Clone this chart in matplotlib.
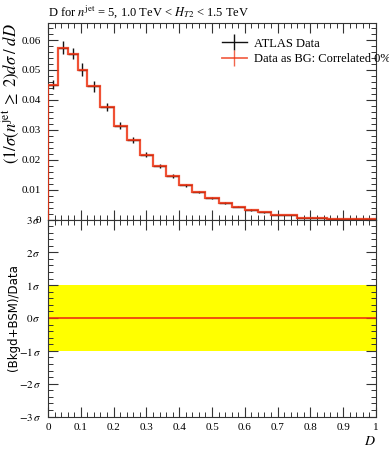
import matplotlib
matplotlib.use("Agg")
import matplotlib.pyplot as plt
import numpy as np
from matplotlib.ticker import MultipleLocator, FixedLocator
from matplotlib.lines import Line2D

plt.rcParams['font.family'] = ['Liberation Serif', 'DejaVu Serif']
plt.rcParams['mathtext.fontset'] = 'stix'

# Data
bin_edges = [0.0, 0.03, 0.06, 0.09, 0.12, 0.16, 0.20, 0.24, 0.28, 0.32, 0.36,
             0.40, 0.44, 0.48, 0.52, 0.56, 0.60, 0.64, 0.68, 0.76, 0.85, 1.0]
values = [0.0451, 0.0574, 0.0554, 0.0501, 0.0445, 0.0376, 0.0313, 0.0265,
          0.0217, 0.0178, 0.0146, 0.0115, 0.0092, 0.0073, 0.0056, 0.0043,
          0.0032, 0.0024, 0.0015, 0.0006, 0.0001]
errors = [0.0016, 0.0022, 0.0018, 0.0022, 0.0018, 0.0013, 0.0012, 0.0010,
          0.0008, 0.0007, 0.0006, 0.0005, 0.0004, 0.0003, 0.0003, 0.0002,
          0.0002, 0.0002, 0.0001, 0.0001, 0.0001]
pull_band = [-1.0, 1.0]
pull_line = [0.0, 0.0]
x_ticks = [0, 0.1, 0.2, 0.3, 0.4, 0.5, 0.6, 0.7, 0.8, 0.9, 1.0]
x_tick_labels = ['0', '0.1', '0.2', '0.3', '0.4', '0.5', '0.6', '0.7', '0.8', '0.9', '1']
y_ticks = [0.0, 0.01, 0.02, 0.03, 0.04, 0.05, 0.06]
y_tick_labels = ['0', '0.01', '0.02', '0.03', '0.04', '0.05', '0.06']
sig_ticks = [-3, -2, -1, 0, 1, 2, 3]
sig_tick_labels = [r'$-3\,\sigma$', r'$-2\,\sigma$', r'$-1\,\sigma$', r'$0\,\sigma$',
                   r'$1\,\sigma$', r'$2\,\sigma$', r'$3\,\sigma$']

edges = np.array(bin_edges)
vals = np.array(values)
errs = np.array(errors)
centers = 0.5 * (edges[:-1] + edges[1:])
halfw = 0.5 * (edges[1:] - edges[:-1])

fig = plt.figure(figsize=(3.89, 4.5), dpi=100)
L, R = 48/389, 376/389
ax1 = fig.add_axes([L, 1-219.5/450, R-L, (219.5-23)/450])
ax2 = fig.add_axes([L, 1-416.5/450, R-L, (416.5-219.5)/450])

red = '#ee3311'
black = '#111111'

# Top panel
ax1.errorbar(centers, vals, xerr=halfw, yerr=errs, fmt='none', ecolor=black,
             elinewidth=1.0, capsize=0, zorder=2)
ax1.stairs(vals, edges, color=red, lw=1.6, alpha=0.85, zorder=3)

hb = (Line2D([], [], color=black, lw=1.0),
      Line2D([], [], color=black, marker='|', ms=11, mew=1.0, ls='none'))
hr = (Line2D([], [], color=red, lw=1.3, alpha=0.75),
      Line2D([], [], color=red, marker='|', ms=11, mew=1.0, ls='none', alpha=0.75))
leg = ax1.legend([hb, hr], ['ATLAS Data', 'Data as BG: Correlated 0%'], loc='upper left',
                 bbox_to_anchor=(0.53, 0.925), frameon=False, fontsize=9,
                 borderpad=0, borderaxespad=0, handlelength=2.0, handletextpad=0.55,
                 labelspacing=0.3)
ax1.set_xlim(0, 1)
ax1.set_ylim(0, 0.0657)
ax1.yaxis.set_major_locator(FixedLocator(y_ticks))
ax1.set_yticklabels(y_tick_labels)
ax1.yaxis.set_minor_locator(MultipleLocator(0.002))
ax1.xaxis.set_major_locator(FixedLocator(x_ticks))
ax1.xaxis.set_minor_locator(MultipleLocator(0.02))
ax1.tick_params(axis='x', labelbottom=False)
ax1.set_ylabel(r'$(1/\sigma(n^{\mathrm{jet}}\; \geq\; 2)d\sigma\;/\;dD$', loc='top', fontsize=12)
ax1.set_title(r'D for $n^{\mathrm{jet}}$ = 5, 1.0 TeV < $H_{T2}$ < 1.5 TeV', loc='left',
              fontsize=9, pad=5)

# Bottom panel
ax2.fill_between([0, 1], [pull_band[0]] * 2, [pull_band[1]] * 2, color='#ffff00', lw=0, zorder=1)
ax2.plot([0, 1], pull_line, color=red, lw=1.2, zorder=2)
ax2.set_xlim(0, 1)
ax2.set_ylim(-3, 3)
ax2.yaxis.set_major_locator(FixedLocator(sig_ticks))
ax2.set_yticklabels(sig_tick_labels)
ax2.yaxis.set_minor_locator(MultipleLocator(0.2))
ax2.xaxis.set_major_locator(FixedLocator(x_ticks))
ax2.set_xticklabels(x_tick_labels)
ax2.xaxis.set_minor_locator(MultipleLocator(0.02))
ax2.set_ylabel('(Bkgd+BSM)/Data', family='DejaVu Sans', fontsize=8.5)
ax2.set_xlabel('$D$', loc='right', fontsize=10, labelpad=2)

for ax in (ax1, ax2):
    ax.tick_params(which='both', direction='in', top=True, right=True, colors='#333333',
                   labelcolor='black', labelsize=8)
    ax.tick_params(which='major', length=7, width=0.8, pad=5)
    ax.tick_params(which='minor', length=3.5, width=0.7)
    for s in ax.spines.values():
        s.set_color('#333333')
        s.set_linewidth(0.8)

ax1.yaxis.set_label_coords(-0.08, 1.0)
ax2.yaxis.set_label_coords(-0.085, 0.5)

fig.savefig('out.png', dpi=100)
